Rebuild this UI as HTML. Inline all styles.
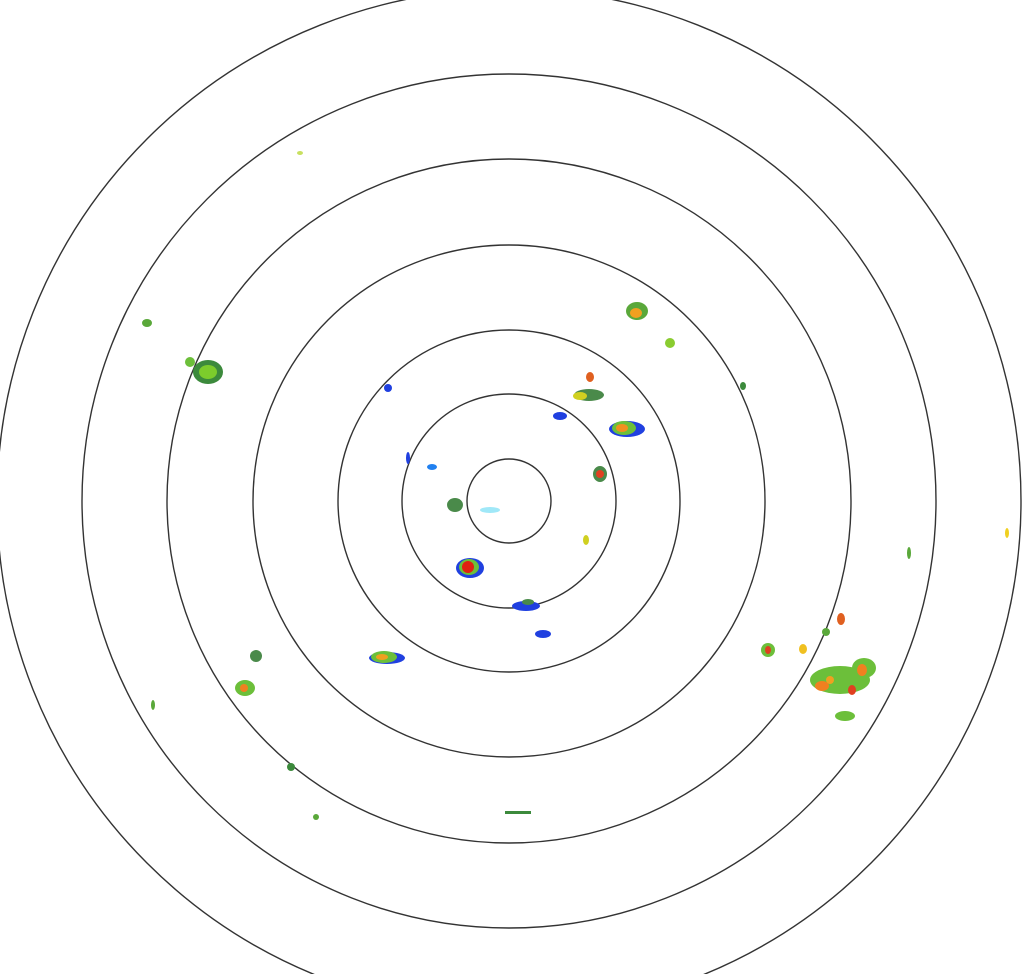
<!DOCTYPE html>
<html><head><meta charset="utf-8"><style>
html,body{margin:0;padding:0;background:#fff;width:1029px;height:974px;overflow:hidden}
</style></head><body>
<svg width="1029" height="974" viewBox="0 0 1029 974" xmlns="http://www.w3.org/2000/svg">
<g fill="none" stroke="#333" stroke-width="1.4">
<circle cx="509" cy="501" r="42"/>
<circle cx="509" cy="501" r="107"/>
<circle cx="509" cy="501" r="171"/>
<circle cx="509" cy="501" r="256"/>
<circle cx="509" cy="501" r="342"/>
<circle cx="509" cy="501" r="427"/>
<circle cx="509" cy="501" r="512"/>
</g>
<g>
<!-- NW cluster -->
<ellipse cx="208" cy="372" rx="15" ry="12" fill="#3c8a3c"/>
<ellipse cx="208" cy="372" rx="9" ry="7" fill="#7ccc2c"/>
<ellipse cx="190" cy="362" rx="5" ry="5" fill="#6cbf3a"/>
<ellipse cx="147" cy="323" rx="5" ry="4" fill="#5aa83a"/>
<ellipse cx="300" cy="153" rx="3" ry="2" fill="#c8e060"/>
<!-- NE -->
<ellipse cx="637" cy="311" rx="11" ry="9" fill="#5aa83a"/>
<ellipse cx="636" cy="313" rx="6" ry="5" fill="#f0a020"/>
<ellipse cx="670" cy="343" rx="5" ry="5" fill="#8acc30"/>
<ellipse cx="589" cy="395" rx="15" ry="6" fill="#4a8a4a"/>
<ellipse cx="580" cy="396" rx="7" ry="4" fill="#d0d020"/>
<ellipse cx="590" cy="377" rx="4" ry="5" fill="#e06020"/>
<ellipse cx="627" cy="429" rx="18" ry="8" fill="#2040e0"/>
<ellipse cx="624" cy="428" rx="12" ry="7" fill="#6cbf3a"/>
<ellipse cx="622" cy="428" rx="6" ry="4" fill="#f09020"/>
<ellipse cx="560" cy="416" rx="7" ry="4" fill="#2040e0"/>
<ellipse cx="600" cy="474" rx="7" ry="8" fill="#4a8a4a"/>
<ellipse cx="600" cy="474" rx="4" ry="4" fill="#e04020"/>
<ellipse cx="743" cy="386" rx="3" ry="4" fill="#3c8a3c"/>
<!-- center-ish -->
<ellipse cx="470" cy="568" rx="14" ry="10" fill="#2040e0"/>
<ellipse cx="469" cy="567" rx="10" ry="8" fill="#6cbf3a"/>
<ellipse cx="468" cy="567" rx="6" ry="6" fill="#e02010"/>
<ellipse cx="455" cy="505" rx="8" ry="7" fill="#4a8a4a"/>
<ellipse cx="526" cy="606" rx="14" ry="5" fill="#2040e0"/>
<ellipse cx="528" cy="602" rx="6" ry="3" fill="#4a8a4a"/>
<ellipse cx="543" cy="634" rx="8" ry="4" fill="#2040e0"/>
<ellipse cx="432" cy="467" rx="5" ry="3" fill="#2080f0"/>
<ellipse cx="490" cy="510" rx="10" ry="3" fill="#a0e8f8"/>
<ellipse cx="408" cy="458" rx="2" ry="6" fill="#2040e0"/>
<ellipse cx="388" cy="388" rx="4" ry="4" fill="#2040e0"/>
<ellipse cx="586" cy="540" rx="3" ry="5" fill="#d0d020"/>
<!-- SW -->
<ellipse cx="387" cy="658" rx="18" ry="6" fill="#2040e0"/>
<ellipse cx="384" cy="657" rx="13" ry="6" fill="#6cbf3a"/>
<ellipse cx="382" cy="657" rx="6" ry="3" fill="#f0a020"/>
<ellipse cx="245" cy="688" rx="10" ry="8" fill="#6cbf3a"/>
<ellipse cx="244" cy="688" rx="4" ry="4" fill="#f08020"/>
<ellipse cx="256" cy="656" rx="6" ry="6" fill="#4a8a4a"/>
<ellipse cx="153" cy="705" rx="2" ry="5" fill="#5aa83a"/>
<ellipse cx="291" cy="767" rx="4" ry="4" fill="#3c8a3c"/>
<ellipse cx="316" cy="817" rx="3" ry="3" fill="#5aa83a"/>
<rect x="505" y="811" width="26" height="3" fill="#3c8a3c"/>
<!-- SE cluster -->
<ellipse cx="840" cy="680" rx="30" ry="14" fill="#6cbf3a"/>
<ellipse cx="864" cy="668" rx="12" ry="10" fill="#6cbf3a"/>
<ellipse cx="862" cy="670" rx="5" ry="6" fill="#f08020"/>
<ellipse cx="822" cy="686" rx="7" ry="5" fill="#f08020"/>
<ellipse cx="852" cy="690" rx="4" ry="5" fill="#e04020"/>
<ellipse cx="830" cy="680" rx="4" ry="4" fill="#f0a020"/>
<ellipse cx="845" cy="716" rx="10" ry="5" fill="#6cbf3a"/>
<ellipse cx="768" cy="650" rx="7" ry="7" fill="#6cbf3a"/>
<ellipse cx="768" cy="650" rx="3" ry="4" fill="#e04020"/>
<ellipse cx="803" cy="649" rx="4" ry="5" fill="#f0c020"/>
<ellipse cx="841" cy="619" rx="4" ry="6" fill="#e06020"/>
<ellipse cx="826" cy="632" rx="4" ry="4" fill="#5aa83a"/>
<ellipse cx="909" cy="553" rx="2" ry="6" fill="#5aa83a"/>
<ellipse cx="1007" cy="533" rx="2" ry="5" fill="#f0d020"/>
</g>
</svg>
</body></html>
